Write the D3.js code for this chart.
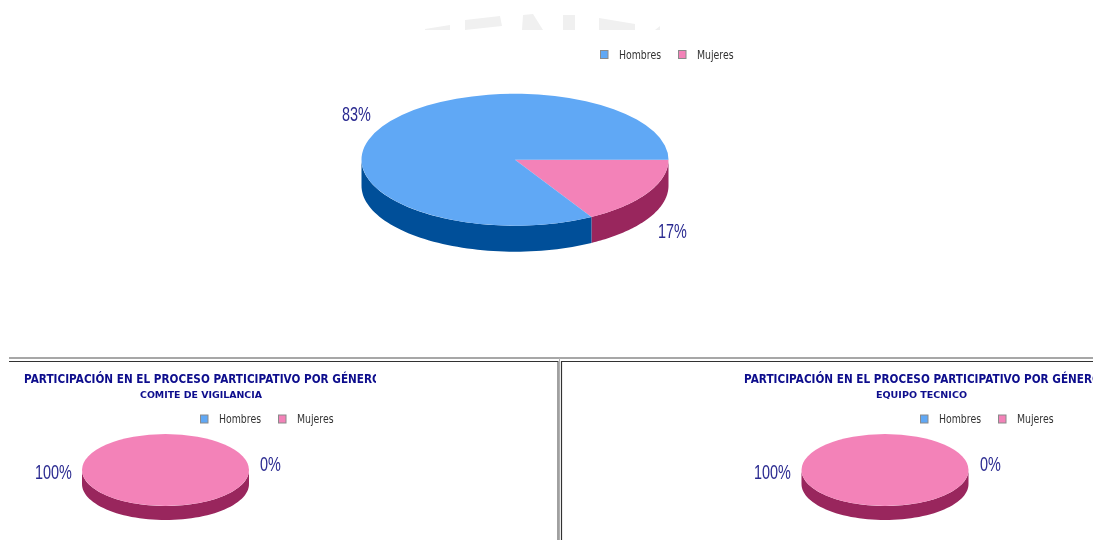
<!DOCTYPE html>
<html>
<head>
<meta charset="utf-8">
<script src="https://cdn.jsdelivr.net/npm/d3@7"></script>
<style>
  html, body { margin: 0; padding: 0; background: #fff; overflow: hidden; }
  svg { display: block; }
  .legend { font-family: "DejaVu Sans"; font-size: 12px; fill: #333; }
  .pct { font-family: "Liberation Sans"; font-size: 19.5px; fill: #2a2a90; }
  .title { font-family: "DejaVu Sans"; font-weight: bold; font-size: 12.3px; fill: #0a0a8c; }
  .subtitle { font-family: "DejaVu Sans"; font-weight: bold; font-size: 9.5px; fill: #0a0a8c; }
</style>
</head>
<body>
<div id="chart"></div>
<script>
// values, the wedge measures about 1/6 of the pie
var categories = ["Hombres", "Mujeres"];
var hombres = [83.3, 0, 0];
var mujeres = [16.7, 100, 100];
var titleText = "PARTICIPACIÓN EN EL PROCESO PARTICIPATIVO POR GÉNERO";
var subtitles = ["", "COMITE DE VIGILANCIA", "EQUIPO TECNICO"];

var topColors = { Hombres: "#60a8f5", Mujeres: "#f382b8" };
var sideColors = { Hombres: "#044f99", Mujeres: "#99265d" };

let width = 1093;
let height = 540;

/** where each pie sits on the page. labels go hombres, mujeres. */
let layout = [
  { cx: 515, cy: 159.7, rx: 153.5, ry: 66, depth: 26, legendX: 600, legendY: 54.5, legendStep: 78,
    labels: [{ x: 342, y: 121 }, { x: 658, y: 238 }] },
  { cx: 165.5, cy: 470, rx: 83.5, ry: 36, depth: 14, legendX: 200, legendY: 419, legendStep: 78,
    labels: [{ x: 260, y: 471 }, { x: 35, y: 479 }], titleX: 24, clip: [0, 376], subX: 201, subW: 122 },
  { cx: 885, cy: 470, rx: 83.5, ry: 36, depth: 14, legendX: 920, legendY: 419, legendStep: 78,
    labels: [{ x: 980, y: 471 }, { x: 754, y: 479 }], titleX: 744, clip: [562, 1093], subX: 921.5, subW: 91 }
];

let svg = d3.select("#chart").append("svg")
  .attr("width", width)
  .attr("height", height);

let defs = svg.append("defs");
defs.append("filter").attr("id", "soft")
  .append("feGaussianBlur").attr("stdDeviation", 0.4);

let page = svg.append("g").attr("filter", "url(#soft)");

/** faded watermark at the top, cut off by the chart image below it. */
let watermark = [
  "M425,29L450,25L450,30L425,30Z",
  "M465,20L500,16L502,26L465,30Z",
  "M522,30L523,15L533,14L543,30Z",
  "M563,15L575,15L575,30L563,30Z",
  "M599,18L635,24L635,30L599,30Z",
  "M655,30L660,26L660,30Z"
];
page.selectAll(".mark").data(watermark).enter().append("path")
  .attr("class", "mark")
  .attr("d", d => d)
  .attr("fill", "#f0f0f0");

/** frame lines of the lower table. */
function rule(x1, y1, x2, y2, color, w) {
  page.append("line")
    .attr("x1", x1).attr("y1", y1).attr("x2", x2).attr("y2", y2)
    .attr("stroke", color).attr("stroke-width", w);
}
rule(9, 358, width, 358, "#8a8a8a", 1.4);
rule(9, 361.5, 558, 361.5, "#333", 1.2);
rule(561, 361.5, width, 361.5, "#333", 1.2);
rule(558, 361, 558, height, "#444", 1);
rule(559.5, 358, 559.5, height, "#b0b0b0", 1);
rule(561.5, 361, 561.5, height, "#333", 1.2);

let pie = d3.pie()
  .sort(null)
  .value(d => d.value)
  .startAngle(Math.PI / 2)
  .endAngle(Math.PI / 2 + 2 * Math.PI);

layout.forEach((box, i) => {
  // Mujeres is drawn first so that its wedge starts at 3 o'clock, as in the picture
  let slices = pie([
    { name: categories[1], value: mujeres[i] },
    { name: categories[0], value: hombres[i] }
  ]);

  let xAt = a => box.cx + box.rx * Math.sin(a);
  let yAt = a => box.cy - box.ry * Math.cos(a);

  // side wall: only the part of the rim facing the viewer
  let rim = d3.area()
    .x(a => xAt(a))
    .y0(a => yAt(a))
    .y1(a => yAt(a) + box.depth);

  let sides = page.append("g");
  slices.forEach(s => {
    let from = Math.max(s.startAngle, Math.PI / 2);
    let to = Math.min(s.endAngle, 3 * Math.PI / 2);
    if (to <= from) return;
    sides.append("path")
      .attr("d", rim(d3.range(0, 61).map(k => from + (to - from) * k / 60)))
      .attr("fill", sideColors[s.data.name]);
  });

  // top face: unit arc squashed into an ellipse
  let arc = d3.arc().innerRadius(0).outerRadius(1);
  page.append("g")
    .attr("transform", `translate(${box.cx},${box.cy}) scale(${box.rx},${box.ry})`)
    .selectAll("path")
    .data(slices.filter(s => s.data.value > 0))
    .enter()
    .append("path")
    .attr("d", arc)
    .attr("fill", d => topColors[d.data.name]);

  // percent labels, narrowed since no condensed Arial is around
  page.selectAll(".pct" + i)
    .data(categories)
    .enter()
    .append("text")
    .attr("class", "pct")
    .attr("transform", (d, k) => `translate(${box.labels[k].x},${box.labels[k].y}) scale(0.74,1)`)
    .text((d, k) => Math.round(k == 0 ? hombres[i] : mujeres[i]) + "%");

  // legend
  let legend = page.selectAll(".leg" + i)
    .data(categories)
    .enter()
    .append("g")
    .attr("transform", (d, k) => `translate(${box.legendX + k * box.legendStep},${box.legendY})`);
  legend.append("rect")
    .attr("x", 0.5).attr("y", -4).attr("width", 7.5).attr("height", 8)
    .attr("fill", d => topColors[d])
    .attr("stroke", "#8a8a8a");
  legend.append("text")
    .attr("class", "legend")
    .attr("transform", "translate(19,4) scale(0.78,1)")
    .text(d => d);

  // title and subtitle of the lower charts
  if (box.titleX !== undefined) {
    let clipId = "clip" + i;
    defs.append("clipPath").attr("id", clipId)
      .append("rect")
      .attr("x", box.clip[0]).attr("y", 362)
      .attr("width", box.clip[1] - box.clip[0]).attr("height", 40);
    let head = page.append("g").attr("clip-path", `url(#${clipId})`);
    head.append("text")
      .attr("class", "title")
      .attr("x", box.titleX)
      .attr("y", 383)
      .attr("textLength", 357)
      .attr("lengthAdjust", "spacingAndGlyphs")
      .text(titleText);
    head.append("text")
      .attr("class", "subtitle")
      .attr("x", box.subX - box.subW / 2)
      .attr("y", 398)
      .attr("textLength", box.subW)
      .attr("lengthAdjust", "spacingAndGlyphs")
      .text(subtitles[i]);
  }
});
</script>
</body>
</html>
